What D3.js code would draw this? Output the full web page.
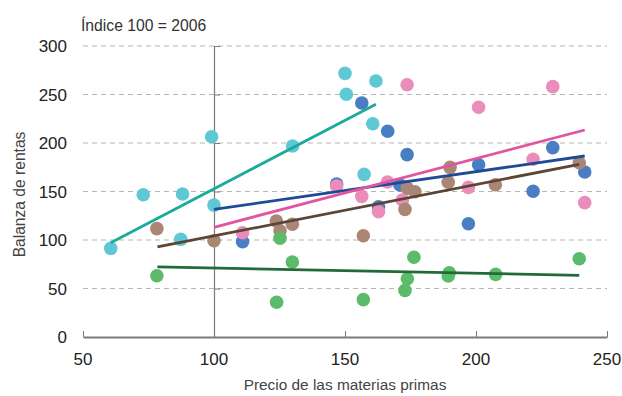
<!DOCTYPE html>
<html>
<head>
<meta charset="utf-8">
<script src="https://cdn.jsdelivr.net/npm/d3@7/dist/d3.min.js"></script>
<style>
  html, body { margin: 0; padding: 0; background: #fff; }
  svg { display: block; font-family: "Liberation Sans", Arial, Helvetica, sans-serif; }
</style>
</head>
<body>
<svg id="chart" width="622" height="396"></svg>
<script>
// ---- Data ----
const xTicks = [50, 100, 150, 200, 250];
const yTicks = [0, 50, 100, 150, 200, 250, 300];

const seriesNames = ["cyan", "blue", "pink", "brown", "green"];

const cyanPoints = [
  [60.6, 91.4], [73.0, 146.7], [88.0, 147.4], [87.3, 100.7], [99.1, 206.5],
  [100.0, 136.0], [130.0, 196.9], [150.0, 271.8], [150.5, 250.2], [161.8, 263.9],
  [160.6, 219.9], [157.3, 167.7]
];
const bluePoints = [
  [110.9, 98.3], [156.4, 241.2], [166.3, 212.1], [173.7, 188.0], [146.8, 157.7],
  [162.8, 134.3], [171.0, 156.7], [201.0, 177.6], [197.1, 116.8], [229.3, 195.2],
  [221.8, 150.2], [241.5, 170.1]
];
const pinkPoints = [
  [110.9, 107.5], [173.7, 260.1], [201.0, 236.8], [229.3, 258.1], [221.8, 183.2],
  [241.5, 138.5], [197.1, 154.3], [146.8, 155.7], [156.4, 145.0], [166.2, 159.8],
  [162.8, 129.2], [171.9, 141.2]
];
const brownPoints = [
  [78.2, 111.7], [100.0, 99.3], [123.8, 119.6], [125.2, 109.6], [129.9, 116.2],
  [157.0, 104.4], [172.9, 131.6], [173.8, 153.3], [176.7, 149.8], [190.1, 174.9],
  [189.4, 159.5], [207.4, 157.0], [239.4, 179.7]
];
const greenPoints = [
  [78.2, 63.2], [125.2, 101.8], [129.9, 77.3], [123.9, 35.8], [157.0, 38.5],
  [176.3, 82.2], [173.8, 60.1], [172.9, 48.1], [189.8, 66.3], [189.4, 62.9],
  [207.5, 64.6], [239.4, 80.7]
];

// trend lines: [x1, y1, x2, y2]
const cyanTrend  = [60.6, 97.2, 161.8, 239.9];
const blueTrend  = [100.0, 131.6, 241.5, 186.6];
const pinkTrend  = [100.0, 113.1, 241.5, 213.4];
const brownTrend = [78.4, 92.8, 239.4, 178.0];
const greenTrend = [78.4, 72.2, 239.4, 63.6];

const pointColors = { cyan: "#5ec9d5", blue: "#4a7ec4", pink: "#ea8dba", brown: "#aa8774", green: "#5cbb6a" };
const lineColors  = { cyan: "#1aab9d", blue: "#1f4b94", pink: "#e2549f", brown: "#5d4535", green: "#206b36" };

const pointsBySeries = { cyan: cyanPoints, blue: bluePoints, pink: pinkPoints, brown: brownPoints, green: greenPoints };
const trendBySeries = { cyan: cyanTrend, blue: blueTrend, pink: pinkTrend, brown: brownTrend, green: greenTrend };

// ---- Layout ----
const svg = d3.select("#chart");
const x = d3.scaleLinear().domain([50, 250]).range([83, 607]);
const y = d3.scaleLinear().domain([0, 300]).range([337, 46]);

// gridlines
svg.append("g").selectAll("line")
  .data(yTicks.filter(d => d > 0))
  .join("line")
  .attr("x1", x(50)).attr("x2", x(250))
  .attr("y1", d => y(d)).attr("y2", d => y(d))
  .attr("stroke", "#b5b5b5")
  .attr("stroke-width", 1)
  .attr("stroke-dasharray", "5,4");

// vertical y axis at x = 100
const yAxis = d3.axisRight(y).tickValues(yTicks).tickSize(6).tickFormat("");
const yAxisG = svg.append("g").attr("transform", `translate(${x(100)},0)`).call(yAxis);
yAxisG.select(".domain").attr("stroke", "#7a7a7a").attr("stroke-width", 1.2);
yAxisG.selectAll(".tick line").attr("stroke", "#7a7a7a");

// y tick labels at left
svg.append("g").selectAll("text")
  .data(yTicks)
  .join("text")
  .attr("x", 67)
  .attr("y", d => y(d))
  .attr("dy", "0.36em")
  .attr("text-anchor", "end")
  .attr("font-size", 17)
  .attr("fill", "#222")
  .text(d => d);

// x axis
const xAxis = d3.axisTop(x).tickValues(xTicks).tickSize(6).tickSizeOuter(0).tickFormat("");
const xAxisG = svg.append("g").attr("transform", `translate(0,${y(0)})`).call(xAxis);
xAxisG.select(".domain").attr("stroke", "#7a7a7a").attr("stroke-width", 2);
xAxisG.selectAll(".tick line").attr("stroke", "#7a7a7a");

svg.append("g").selectAll("text")
  .data(xTicks)
  .join("text")
  .attr("x", d => x(d))
  .attr("y", 365)
  .attr("text-anchor", "middle")
  .attr("font-size", 17)
  .attr("fill", "#222")
  .text(d => d);

// points
seriesNames.forEach(name => {
  svg.append("g").selectAll("circle")
    .data(pointsBySeries[name])
    .join("circle")
    .attr("cx", d => x(d[0]))
    .attr("cy", d => y(d[1]))
    .attr("r", 6.8)
    .attr("fill", pointColors[name]);
});

// trend lines
seriesNames.forEach(name => {
  const t = trendBySeries[name];
  svg.append("line")
    .attr("x1", x(t[0])).attr("y1", y(t[1]))
    .attr("x2", x(t[2])).attr("y2", y(t[3]))
    .attr("stroke", lineColors[name])
    .attr("stroke-width", 2.8);
});

// titles
svg.append("text")
  .attr("x", 81).attr("y", 30.5)
  .attr("font-size", 15.7)
  .attr("fill", "#333")
  .text("Índice 100 = 2006");

svg.append("text")
  .attr("x", 345).attr("y", 390)
  .attr("text-anchor", "middle")
  .attr("font-size", 15.4)
  .attr("fill", "#444")
  .text("Precio de las materias primas");

svg.append("text")
  .attr("transform", `translate(25,${(y(0) + y(300)) / 2 + 3}) rotate(-90)`)
  .attr("text-anchor", "middle")
  .attr("font-size", 15.6)
  .attr("fill", "#444")
  .text("Balanza de rentas");
</script>
</body>
</html>
